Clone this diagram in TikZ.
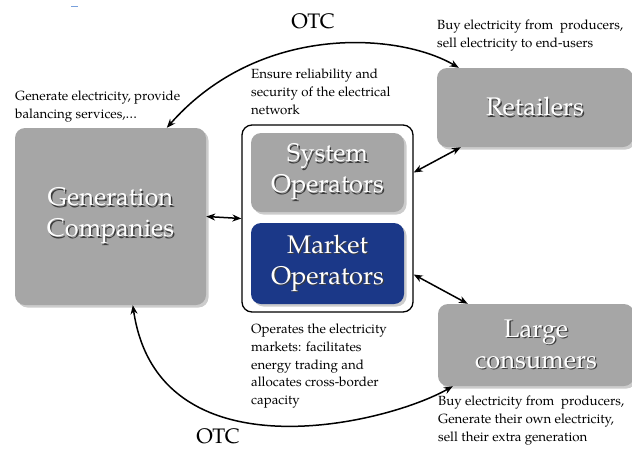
\documentclass[tikz,border=0pt]{standalone}
\usepackage{fontspec}
\setmainfont{TeX Gyre Pagella}
\usetikzlibrary{arrows.meta,shadows}
\definecolor{boxgray}{RGB}{166,166,166}
\definecolor{moblue}{RGB}{27,56,136}
\definecolor{tshadow}{RGB}{60,60,60}
\definecolor{dashblue}{RGB}{120,160,220}
\newcommand\shtxt[1]{\rlap{\hspace{1.3pt}\raisebox{-1.3pt}{\textcolor{tshadow}{#1}}}\textcolor{white}{#1}}
\begin{document}
\begin{tikzpicture}[x=1pt,y=-1pt,
  box/.style={rounded corners=10pt, inner sep=0pt, align=center,
    font=\fontsize{25.5}{31}\selectfont,
    drop shadow={shadow xshift=2.5pt,shadow yshift=-2.5pt,opacity=0.4}},
  grbox/.style={box, fill=boxgray},
  desc/.style={anchor=north west, inner sep=0pt, align=left,
    font=\fontsize{13.3}{17.6}\selectfont},
  otc/.style={anchor=base, inner sep=0pt, font=\fontsize{21}{24}\selectfont},
  arr/.style={line width=1.5pt,
    {Stealth[length=9pt,width=7pt]}-{Stealth[length=9pt,width=7pt]}}]
\useasboundingbox (0,0) rectangle (632,448);
\draw[dashblue, line width=0.8pt] (71,6) -- (78,6);
\node[grbox, minimum width=191pt, minimum height=177pt] (gen) at (110.5,216.5)
  {\shtxt{Generation}\\\shtxt{Companies}};
\node[draw, line width=1.3pt, rounded corners=10pt, fill=white,
  minimum width=171pt, minimum height=187pt] (ops) at (327.5,218.5) {};
\node[grbox, minimum width=153pt, minimum height=79pt] (so) at (327.5,172.5)
  {\shtxt{System}\\\shtxt{Operators}};
\node[box, fill=moblue, minimum width=153pt, minimum height=81pt] (mo) at (327.5,263.5)
  {\shtxt{Market}\\\shtxt{Operators}};
\node[grbox, minimum width=196pt, minimum height=79pt] (ret) at (535,107.5)
  {\shtxt{Retailers}};
\node[grbox, minimum width=196pt, minimum height=82pt] (lc) at (536,345)
  {\shtxt{Large}\\\shtxt{consumers}};
\draw[arr] (gen.east) -- (ops.west);
\draw[arr] ([yshift=46pt]ops.east) -- ([xshift=24pt]ret.south west);
\draw[arr] ([yshift=-56pt]ops.east) -- ([xshift=30pt]lc.north west);
\draw[arr] ([xshift=152pt]gen.north west) .. controls (260,22) and (400,33) .. ([xshift=22pt]ret.north west);
\draw[arr] ([xshift=118pt]gen.south west) .. controls (158,478) and (385,425) .. ([xshift=15pt]lc.south west);
\node[otc] (otc1) at (313,28) {OTC};
\node[otc] (otc2) at (218,443) {OTC};
\node[desc] (retd) at (437,20) {Buy electricity from~ producers,\\sell electricity to end-users};
\node[desc] (gend) at (15,91) {Generate electricity, provide\\balancing services,\ldots};
\node[desc] (sod) at (251,69) {Ensure reliability and\\security of the electrical\\network};
\node[desc] (mod) at (251,324) {Operates the electricity\\markets: facilitates\\energy trading and\\allocates cross-border\\capacity};
\node[desc] (lcd) at (438,396) {Buy electricity from~ producers,\\Generate their own electricity,\\sell their extra generation};
\end{tikzpicture}
\end{document}
